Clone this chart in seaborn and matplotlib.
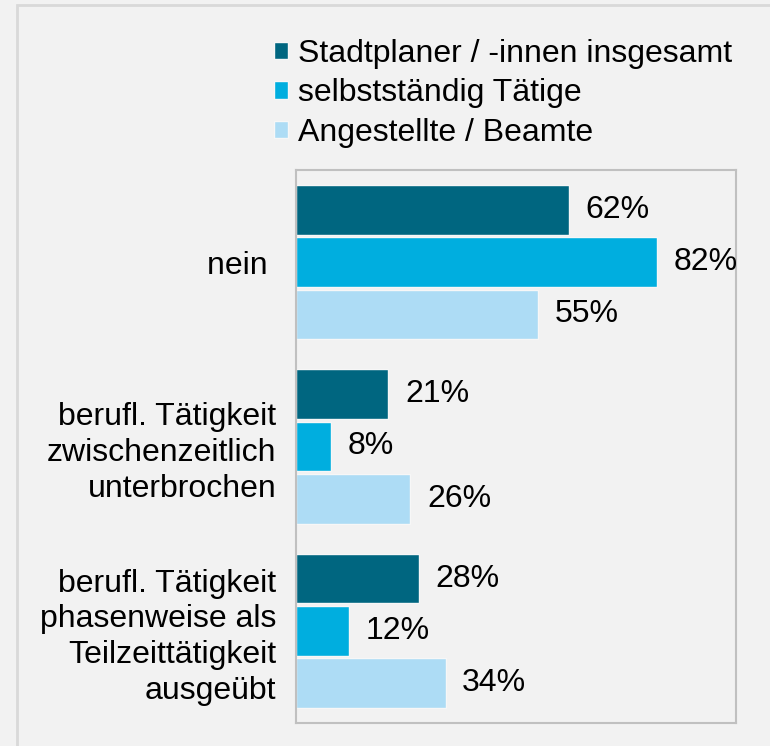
import numpy as np
import pandas as pd
import seaborn as sns
import matplotlib.pyplot as plt
from matplotlib.patches import Rectangle

# data
categories = ['nein ',
              'berufl. Tätigkeit\nzwischenzeitlich\nunterbrochen',
              'berufl. Tätigkeit\nphasenweise als\nTeilzeittätigkeit\nausgeübt']
groups = ['Stadtplaner / -innen insgesamt', 'selbstständig Tätige', 'Angestellte / Beamte']
insgesamt = [62, 21, 28]
selbst = [82, 8, 12]
angestellte = [55, 26, 34]
colors = ['#006680', '#00AEDF', '#ADDCF5']

df = pd.DataFrame({
    'cat': categories * 3,
    'group': [groups[0]] * 3 + [groups[1]] * 3 + [groups[2]] * 3,
    'value': insgesamt + selbst + angestellte,
})

sns.set_style('white')
plt.rcParams['font.family'] = ['Liberation Sans', 'DejaVu Sans']
plt.rcParams['text.color'] = 'black'
plt.rcParams['ytick.color'] = 'black'
plt.rcParams['ytick.labelcolor'] = 'black'
bg = '#f2f2f2'
fs = 23

fig = plt.figure(figsize=(7.7, 7.46), dpi=100, facecolor=bg)
ax = fig.add_axes([296 / 770, 1 - 723 / 746, 440 / 770, 553 / 746])
ax.set_facecolor(bg)

sns.barplot(data=df, x='value', y='cat', hue='group', order=categories,
            hue_order=groups, palette=colors, saturation=1, orient='h',
            width=0.85, gap=0.05, edgecolor='#f7f7f7', linewidth=1, ax=ax)

for cont in ax.containers:
    ax.bar_label(cont, labels=[f'{int(v)}%' for v in cont.datavalues],
                 padding=12, fontsize=fs, color='black')

ax.set_xlim(0, 100)
ax.set_xticks([])
ax.set_xlabel('')
ax.set_ylabel('')
ax.tick_params(axis='y', length=0, pad=14, labelsize=fs, labelcolor='black')
for lbl in ax.get_yticklabels():
    lbl.set_horizontalalignment('right')
    lbl.set_multialignment('right')
    lbl.set_linespacing(1.25)

for sp in ax.spines.values():
    sp.set_visible(True)
    sp.set_color('#c0c0c0')
    sp.set_linewidth(1.5)

handles, labels = ax.get_legend_handles_labels()
ax.get_legend().remove()
fig.legend(handles, labels, loc='upper left', bbox_to_anchor=(261 / 770, 1 - 26 / 746),
           frameon=False, fontsize=fs, handlelength=0.45, handleheight=0.45,
           handletextpad=0.3, labelspacing=0.3, borderaxespad=0, labelcolor='black')

# outer frame of the slide
fig.patches.append(Rectangle((17 / 770, -0.05), 1.1, 1 - 5 / 746 + 0.05,
                             transform=fig.transFigure, fill=False,
                             edgecolor='#d9d9d9', linewidth=2, clip_on=False))

plt.savefig('out.png', dpi=100, facecolor=bg)
